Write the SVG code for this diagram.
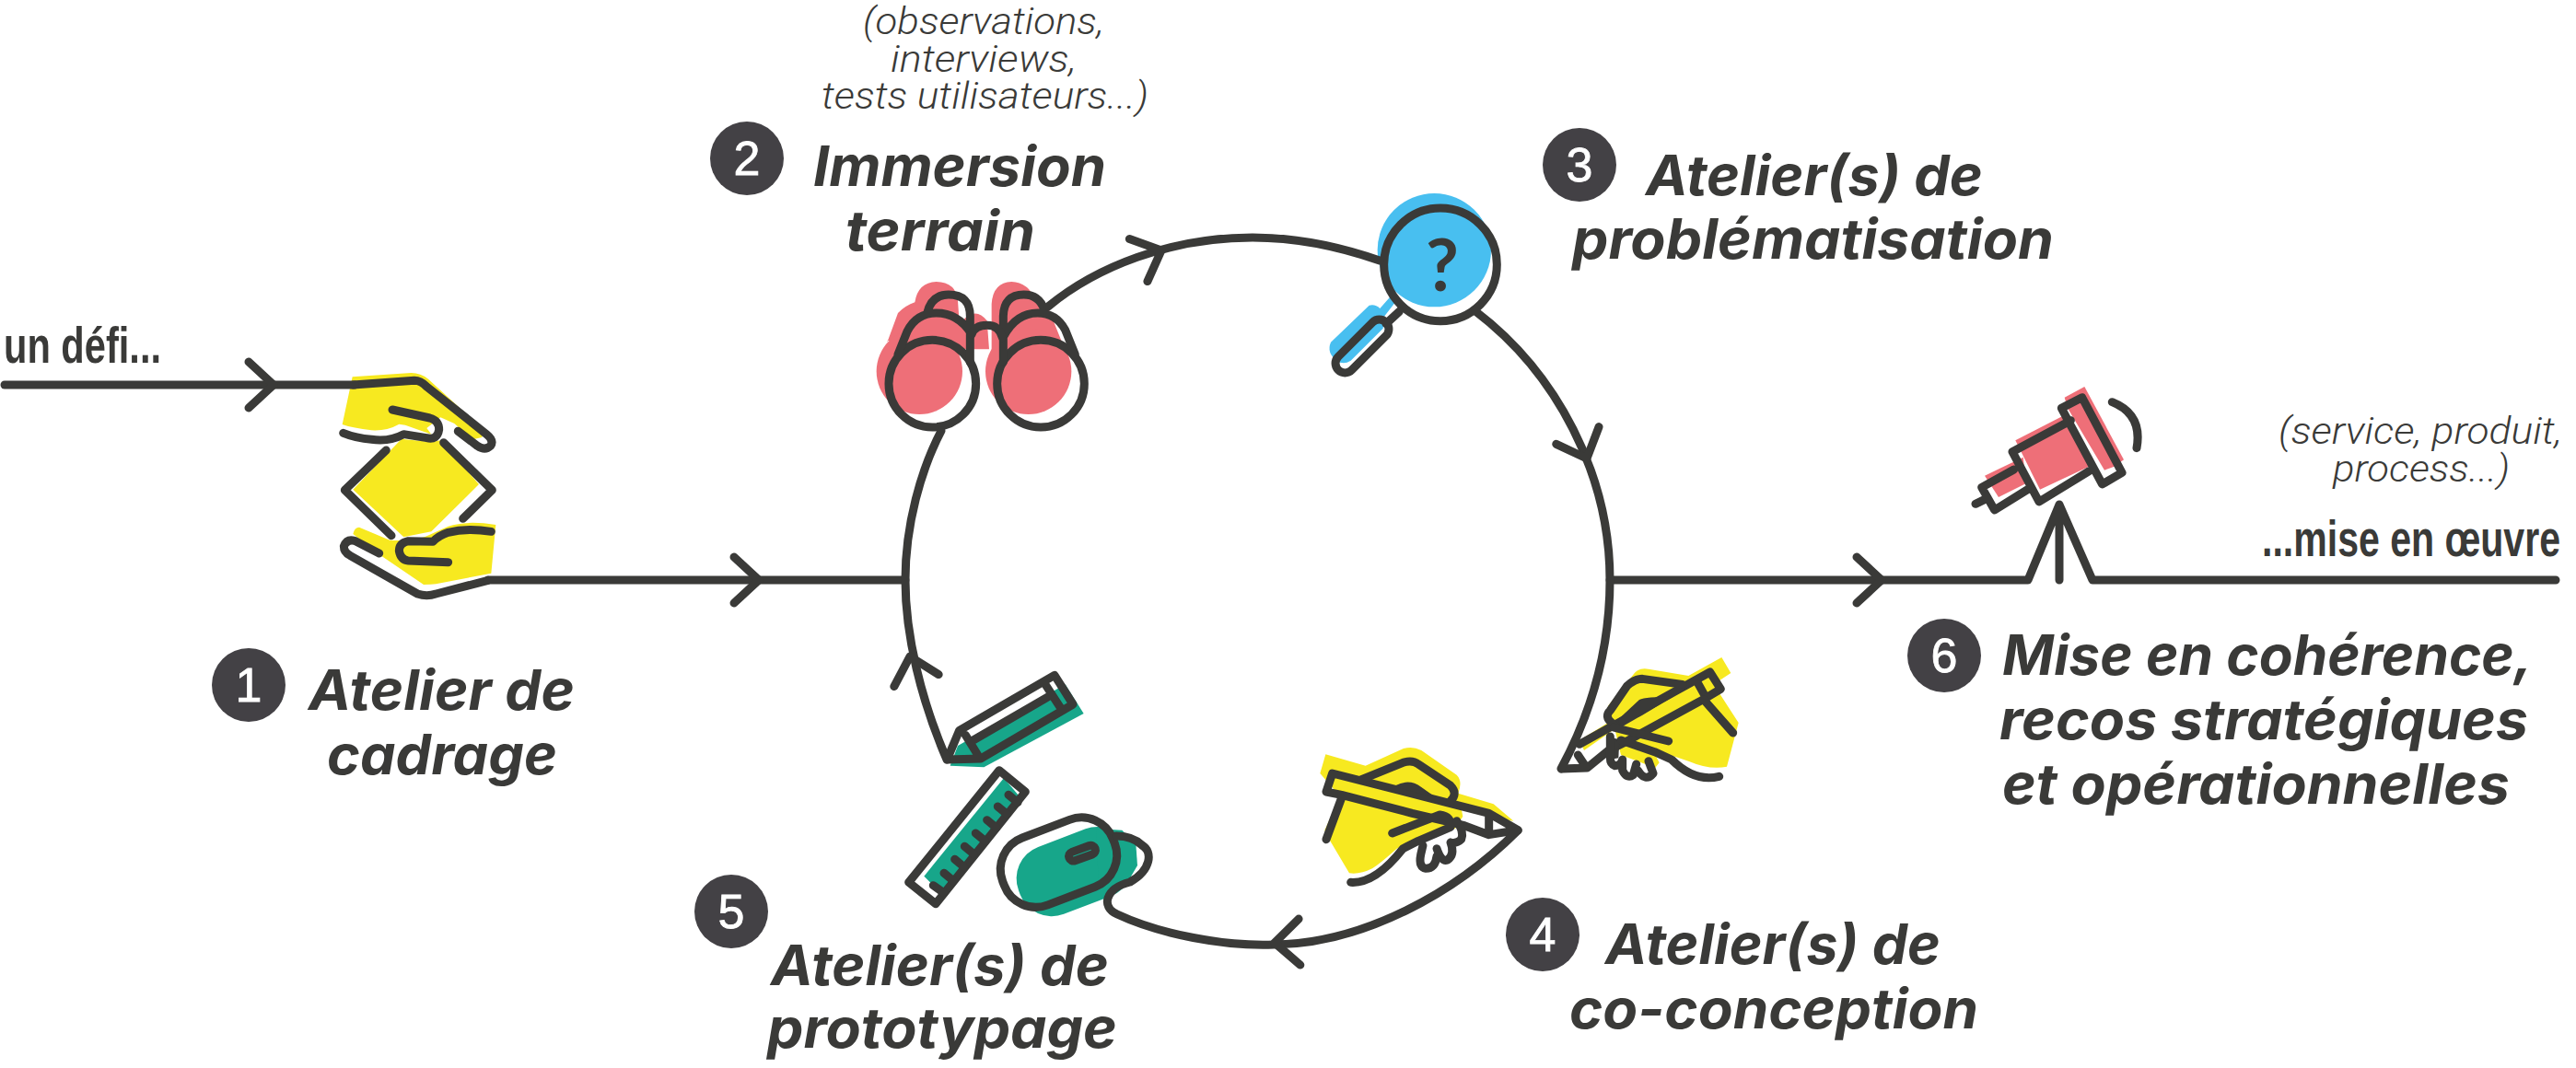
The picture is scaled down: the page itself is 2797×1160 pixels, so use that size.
<svg xmlns="http://www.w3.org/2000/svg" width="2797" height="1160" viewBox="0 0 2797 1160">
<style>
.ln{fill:none;stroke:#3a3a38;stroke-width:9;stroke-linecap:round;stroke-linejoin:round}
.ic{fill:none;stroke:#3a3a38;stroke-width:27;stroke-linecap:round;stroke-linejoin:round}
.dk{fill:#3a3a38}
.ye{fill:#f7e920}.pi{fill:#ee6f78}.gr{fill:#17a68a}.bl{fill:#48bff0}
.t{font-family:Inter,"Liberation Sans",sans-serif;font-style:italic;font-weight:700;font-size:60px;fill:#3a3a38}
.n{font-family:Roboto,"Liberation Sans",sans-serif;font-style:italic;font-weight:300;font-size:40px;fill:#3a3a38}
.c{font-family:"Liberation Sans Narrow","Liberation Sans",sans-serif;font-weight:700;font-size:56px;fill:#3a3a38}
.b{fill:#434145}
.d{font-family:"Liberation Sans Narrow","Liberation Sans",sans-serif;font-size:52px;fill:#fff;stroke:#fff;stroke-width:.8;text-anchor:middle}
</style>
<defs><path id="chev" class="ln" d="M-27 -25L0 0L-27 25"/></defs>

<g id="node-1">
<g transform="translate(340 390) scale(.33333)">
<path class="ye" d="M128 58L320 45Q350 45 375 65L555 230L550 255L520 262L460 210L415 190L370 225L385 245L300 215L280 212Q240 235 190 232Q130 225 95 213Z"/>
<path class="ye" d="M130 425L290 258L300 262L385 270L415 265L540 408L385 562L295 580Z"/>
<path class="ye" d="M150 548Q135 548 130 570L220 640L360 735Q385 735 400 733L580 698L595 540Q500 525 440 545L385 570Q340 595 250 590Z"/>
<path class="ic" d="M130 84L330 70Q350 70 370 90L565 245Q590 265 578 283Q560 300 535 283L472 235"/>
<path class="ic" d="M258 165L380 192Q410 200 410 230Q405 265 370 257L295 245Q250 270 190 262Q140 258 98 241"/>
<path class="ic" d="M238 297L103 427L255 575M425 272L583 427L488 520"/>
<path class="ic" d="M580 562Q500 550 440 565Q410 575 390 595L310 593Q280 600 280 625Q285 655 310 657L440 662"/>
<path class="ic" d="M215 633L135 592Q110 585 100 610Q100 630 120 640L340 765Q370 775 400 765L570 721"/>
</g>
<circle class="b" cx="270" cy="744" r="40"/><text class="d" x="270" y="762">1</text>
<text class="t" x="335" y="771" textLength="289" lengthAdjust="spacingAndGlyphs">Atelier de</text>
<text class="t" x="355" y="841" textLength="250" lengthAdjust="spacingAndGlyphs">cadrage</text>
</g>

<g id="node-2">
<g transform="translate(930 290) scale(.33333)">
<path class="pi" d="M100 245L135 150Q160 125 190 115Q200 50 260 48Q325 50 330 110L335 180L350 170Q390 130 425 175L432 268H335L300 240H100Z"/>
<circle class="pi" cx="205" cy="340" r="140"/>
<path class="pi" d="M440 120Q445 50 505 48Q560 50 585 110L625 135L665 235L690 290L560 300L440 270Z"/>
<circle class="pi" cx="560" cy="340" r="140"/>
<circle class="ic" cx="247" cy="380" r="142"/><circle class="ic" cx="600" cy="380" r="142"/>
<path class="ic" d="M135 285L165 210Q195 150 260 150Q330 150 372 215M230 150Q245 90 300 90Q370 90 370 160V310"/>
<path class="ic" d="M478 310V160Q480 90 545 90Q595 90 612 140M480 225Q520 150 590 150Q650 150 680 205L712 285"/>
<path class="ic" d="M375 220Q385 190 425 190Q465 190 475 230"/>
</g>
<circle class="b" cx="811" cy="172" r="40"/><text class="d" x="811" y="190">2</text>
<text class="n" x="937" y="37" textLength="262" lengthAdjust="spacingAndGlyphs">(observations,</text>
<text class="n" x="967" y="78" textLength="202" lengthAdjust="spacingAndGlyphs">interviews,</text>
<text class="n" x="892" y="118" textLength="355" lengthAdjust="spacingAndGlyphs">tests utilisateurs...)</text>
<text class="t" x="883" y="202" textLength="318" lengthAdjust="spacingAndGlyphs">Immersion</text>
<text class="t" x="918" y="272" textLength="206" lengthAdjust="spacingAndGlyphs">terrain</text>
</g>

<g id="node-3">
<g transform="translate(1360 140) scale(.33333)">
<circle class="bl" cx="592" cy="395" r="185"/>
<path class="bl" d="M380 575Q400 570 415 585L450 545L465 565L430 610L425 650L320 755Q295 770 275 755Q240 730 255 695Z"/>
<circle class="ic" cx="612" cy="442" r="184"/>
<path class="ic" d="M435 635L478 595"/>
<rect class="ic" x="-110" y="-31" width="220" height="62" rx="31" transform="translate(357 708) rotate(-45)"/>
</g>
<text x="1566" y="316" text-anchor="middle" style="font-family:Lato,'Liberation Sans',sans-serif;font-weight:700;font-size:78px;fill:#3a3a38">?</text>
<circle class="b" cx="1715" cy="179" r="40"/><text class="d" x="1715" y="197">3</text>
<text class="t" x="1787" y="212" textLength="366" lengthAdjust="spacingAndGlyphs">Atelier(s) de</text>
<text class="t" x="1707" y="281" textLength="523" lengthAdjust="spacingAndGlyphs">problématisation</text>
</g>

<g id="node-4">
<g transform="translate(1620 660) scale(.33333)">
<path class="ye" d="M378 320L465 212Q480 195 510 200L640 222L748 162L778 213L722 250L803 375L765 518Q710 530 640 500L580 480L520 458L545 505L525 530L500 510L420 480L400 395L300 465L285 432L378 375Z"/>
<path class="ic" d="M285 445L710 210L745 265L690 298L430 440L380 465L310 522L228 525M280 480L300 510M670 245L695 290"/>
<path class="ic" d="M620 250L490 232Q465 232 440 255L385 335Q365 355 390 375L400 385"/>
<path class="dk" d="M410 365L480 300Q500 290 590 290L490 350L420 390Z"/>
<path class="dk" d="M378 420L415 430L412 490L385 495Z"/>
<path class="ic" d="M395 390L575 435M690 300L785 408"/>
<path class="ic" d="M420 432L530 470L585 495Q660 570 740 550"/>
<path class="ic" d="M385 420V490Q385 510 400 515Q420 515 425 495V530Q440 560 460 545L470 510M475 530Q500 570 525 540L510 500"/>
</g>
<circle class="b" cx="1675" cy="1015" r="40"/><text class="d" x="1675" y="1033">4</text>
<text class="t" x="1743" y="1047" textLength="364" lengthAdjust="spacingAndGlyphs">Atelier(s) de</text>
<text class="t" x="1704" y="1117" textLength="444" lengthAdjust="spacingAndGlyphs">co-conception</text>
</g>

<g id="node-4b">
<g transform="translate(1400 790) scale(.33333)">
<path class="ye" d="M118 88L248 125L370 70Q400 60 430 75L545 155Q565 175 550 215L665 250L730 305L650 290L560 265L565 290L540 330L440 350L350 395Q300 440 270 460Q230 480 195 475L130 365L115 335L165 225L100 150Z"/>
<path class="ic" d="M140 150L650 280L745 335L650 350L570 320L400 280L170 220L120 210ZM650 290L650 345"/>
<path class="ic" d="M235 170L370 115Q400 105 420 120L525 190Q550 215 525 240"/>
<path class="dk" d="M345 190Q390 165 430 195L480 230L350 195Z"/>
<path class="ic" d="M170 230L120 365M335 345L490 285Q530 290 525 325L420 370L370 395Q280 510 200 505"/>
<path class="ic" d="M545 305Q570 340 560 365Q545 380 525 375M525 375Q540 415 515 432Q495 440 480 395M480 420Q475 460 445 460Q420 455 428 415L435 385"/>
</g>
</g>

<g id="node-5">
<g transform="translate(960 700) scale(.33333)">
<path class="gr" d="M215 395L240 330L590 130L650 225L325 400Z"/>
<path class="ic" d="M205 375L245 280L555 100L615 195L315 372ZM265 295L305 360M285 315L535 170M525 130L580 215"/>
<path class="gr" d="M390 435L445 500L185 810L130 755Z"/>
<path class="ic" d="M375 410L460 480L168 845L80 775Z"/>
<path class="ic" d="M405 490L435 515M370 528L400 553M335 572L365 597M298 615L328 640M262 658L292 683M230 700L260 725M195 745L225 770M160 785L195 810"/>
<rect class="gr" x="-192" y="-117" width="385" height="234" rx="110" transform="translate(620 740) rotate(-20.9)"/>
<path class="gr" d="M690 600L775 605L820 650L825 720L790 780L700 800Z"/>
<rect class="ic" x="-192" y="-117" width="385" height="234" rx="110" transform="translate(568 710) rotate(-20.9)"/>
<rect class="ic" x="-45" y="-15" width="90" height="30" rx="15" transform="translate(645 680) rotate(-20)"/>
</g>
<circle class="b" cx="794" cy="990" r="40"/><text class="d" x="794" y="1008">5</text>
<text class="t" x="837" y="1070" textLength="367" lengthAdjust="spacingAndGlyphs">Atelier(s) de</text>
<text class="t" x="833" y="1138" textLength="380" lengthAdjust="spacingAndGlyphs">prototypage</text>
</g>

<g id="node-6">
<g transform="translate(2120 400) scale(.33333)">
<path class="pi" d="M365 95L430 60L558 298L527 320L495 332L375 130Z"/>
<path class="pi" d="M205 235L370 150L445 320L285 395Z"/>
<path class="pi" d="M105 350L230 290L240 375L150 420Z"/>
<path class="ic" d="M355 130L422 95L552 340L488 378ZM195 272L385 170M445 335L282 435L195 272M95 388L200 330M245 395L137 462L95 388M75 442L110 425M520 110Q620 150 600 260"/>
</g>
<circle class="b" cx="2111" cy="712" r="40"/><text class="d" x="2111" y="730">6</text>
<text class="n" x="2474" y="482" textLength="308" lengthAdjust="spacingAndGlyphs">(service, produit,</text>
<text class="n" x="2533" y="523" textLength="192" lengthAdjust="spacingAndGlyphs">process...)</text>
<text class="t" x="2174" y="733" textLength="576" lengthAdjust="spacingAndGlyphs">Mise en cohérence,</text>
<text class="t" x="2171" y="803" textLength="574" lengthAdjust="spacingAndGlyphs">recos stratégiques</text>
<text class="t" x="2174" y="873" textLength="551" lengthAdjust="spacingAndGlyphs">et opérationnelles</text>
</g>

<g id="connectors">
<path class="ln" d="M5 418H385"/>
<path class="ln" d="M530 630H983"/>
<path class="ln" d="M1748 630H2202L2236 548L2272 630H2775M2236 548V630"/>
<path class="ln" d="M1138 333C1190 290 1270 258 1360 258C1410 258 1455 268 1498 283"/>
<path class="ln" d="M1602 338C1690 405 1748 515 1748 630C1748 700 1730 770 1695 835"/>
<path class="ln" d="M1648 902C1580 970 1480 1025 1383 1026C1330 1028 1260 1015 1213 993C1195 985 1200 965 1227 958C1250 945 1252 925 1240 918C1232 910 1222 908 1212 908"/>
<path class="ln" d="M1028 825C1000 760 983 690 983 630C983 570 1000 510 1022 468"/>
<use href="#chev" transform="translate(297 418)"/>
<use href="#chev" transform="translate(824 630)"/>
<use href="#chev" transform="translate(2043 630)"/>
<use href="#chev" transform="translate(1261 272) rotate(-23)"/>
<use href="#chev" transform="translate(1723 498) rotate(68)"/>
<use href="#chev" transform="translate(1384 1024) rotate(178)"/>
<use href="#chev" transform="translate(988 713) rotate(-105)"/>
</g>

<text class="c" x="4" y="394" textLength="171" lengthAdjust="spacingAndGlyphs">un défi...</text>
<text class="c" x="2456" y="604" textLength="324" lengthAdjust="spacingAndGlyphs">...mise en œuvre</text>
</svg>
